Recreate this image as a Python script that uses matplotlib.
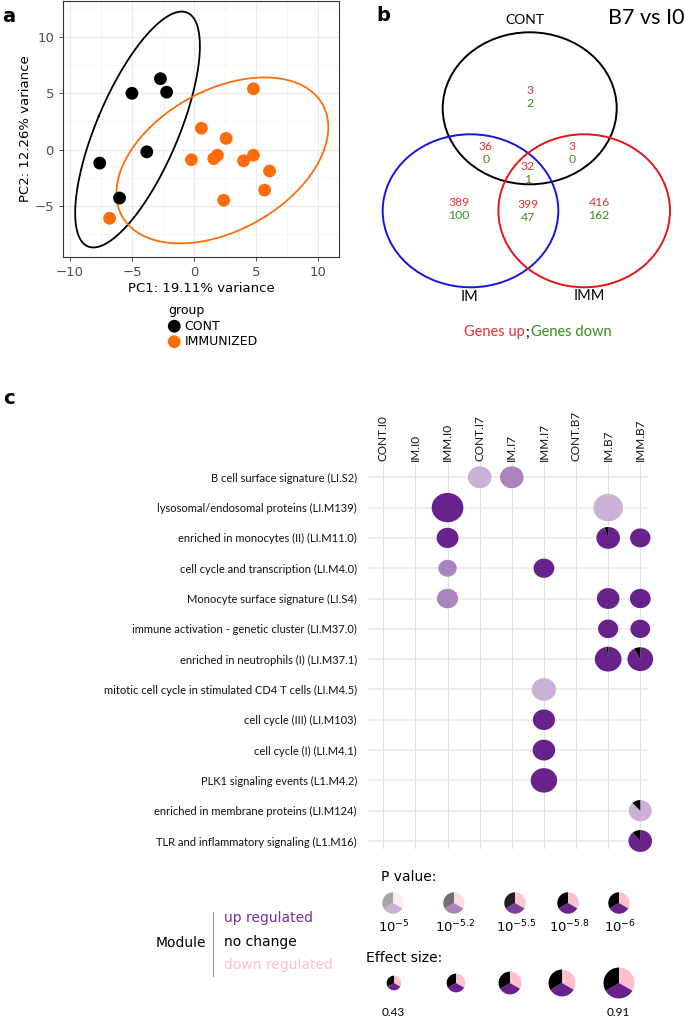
import numpy as np
import matplotlib
matplotlib.use('Agg')
import matplotlib.pyplot as plt
from matplotlib.patches import Ellipse, Polygon
from matplotlib.colors import to_rgb

# ---------------- panel a : PCA scores
cont_pc1 = [-2.7, -5.0, -2.2, -3.8, -7.6, -6.0]
cont_pc2 = [6.3, 5.0, 5.1, -0.2, -1.2, -4.3]
imm_pc1 = [4.8, 0.6, 2.6, -0.2, 1.6, 1.9, 4.0, 4.8, 6.1, 5.7, 2.4, -6.8]
imm_pc2 = [5.4, 1.9, 1.0, -0.9, -0.8, -0.5, -1.0, -0.5, -1.9, -3.6, -4.5, -6.1]

# ---------------- panel b : venn counts (genes up / genes down)
venn_regions = ['CONT', 'CONT&IM', 'CONT&IMM', 'CONT&IM&IMM', 'IM', 'IM&IMM', 'IMM']
venn_up = [3, 36, 3, 32, 389, 399, 416]
venn_down = [2, 0, 0, 1, 100, 47, 162]

# ---------------- panel c : module bubbles
comparisons = ['CONT.I0', 'IM.I0', 'IMM.I0', 'CONT.I7', 'IM.I7', 'IMM.I7',
               'CONT.B7', 'IM.B7', 'IMM.B7']
modules = ['B cell surface signature (LI.S2)',
           'lysosomal/endosomal proteins (LI.M139)',
           'enriched in monocytes (II) (LI.M11.0)',
           'cell cycle and transcription (LI.M4.0)',
           'Monocyte surface signature (LI.S4)',
           'immune activation - genetic cluster (LI.M37.0)',
           'enriched in neutrophils (I) (LI.M37.1)',
           'mitotic cell cycle in stimulated CD4 T cells (LI.M4.5)',
           'cell cycle (III) (LI.M103)',
           'cell cycle (I) (LI.M4.1)',
           'PLK1 signaling events (L1.M4.2)',
           'enriched in membrane proteins (LI.M124)',
           'TLR and inflammatory signaling (L1.M16)']
bub_module = [0, 0, 1, 1, 2, 2, 2, 3, 3, 4, 4, 4, 5, 5, 6, 6, 7, 8, 9, 10, 11, 12]
bub_comp = [3, 4, 2, 7, 2, 7, 8, 2, 5, 2, 7, 8, 7, 8, 7, 8, 5, 5, 5, 5, 8, 8]
bub_effect = [0.67, 0.67, 0.90, 0.84, 0.62, 0.67, 0.58, 0.52, 0.59, 0.60, 0.64,
              0.59, 0.57, 0.56, 0.76, 0.73, 0.69, 0.63, 0.64, 0.75, 0.65, 0.67]
bub_logp = [5.0, 5.2, 6, 5.0, 6, 6, 6, 5.2, 6, 5.2, 6, 6, 6, 6, 6, 6, 5.0, 6, 6, 6,
            5.0, 6]
bub_none = [0, 0, 0, 0, 0, 0.05, 0, 0, 0, 0, 0, 0, 0, 0, 0.02, 0.08, 0, 0, 0, 0,
            0.12, 0.11]
bub_down = [0] * len(bub_none)

legend_logp = [5, 5.2, 5.5, 5.8, 6]
legend_logp_labels = ['$10^{-5}$', '$10^{-5.2}$', '$10^{-5.5}$', '$10^{-5.8}$', '$10^{-6}$']
legend_effect = [0.43, 0.55, 0.67, 0.79, 0.91]

UP = '#68228B'
NONE = '#000000'
DOWN = '#FFC0CB'
ORANGE = '#FF6D0A'


def p_alpha(lp):
    return float(np.clip(0.35 + (lp - 5) * 1.04, 0, 1))


def fade(color, a):
    c = np.array(to_rgb(color))
    return tuple(1 - a * (1 - c))


def pie(ax, cx, cy, rx, ry, fracs, colors):
    # slices go clockwise from 12 o'clock, y axis is inverted
    start = 0.0
    for f, c in zip(fracs, colors):
        if f <= 0:
            continue
        th = np.linspace(start, start + f, max(int(f * 120), 3)) * 2 * np.pi
        xs = cx + rx * np.sin(th)
        ys = cy - ry * np.cos(th)
        pts = list(zip(xs, ys))
        if f < 0.999:
            pts = [(cx, cy)] + pts
        ax.add_patch(Polygon(pts, closed=True, fc=c, ec='none', lw=0, clip_on=False))
        start += f


W, H = 685, 1019
fig = plt.figure(figsize=(W / 100, H / 100), dpi=100)


def box(l, t, r, b):
    return [l / W, 1 - b / H, (r - l) / W, (b - t) / H]


# ================= panel a
ax = fig.add_axes(box(63, 1, 339, 257))
ax.set_facecolor('white')
for xs, ys, col, lab in [(cont_pc1, cont_pc2, 'black', 'CONT'),
                         (imm_pc1, imm_pc2, ORANGE, 'IMMUNIZED')]:
    ax.scatter(xs, ys, s=85, color=col, edgecolor='none', zorder=3, label=lab)
    pts = np.column_stack([xs, ys])
    mu = pts.mean(axis=0)
    vals, vecs = np.linalg.eigh(np.cov(pts.T))
    t = np.linspace(0, 2 * np.pi, 300)
    r = np.sqrt(-2 * np.log(0.05))
    ell = mu[:, None] + r * vecs @ (np.sqrt(vals)[:, None] * np.vstack([np.cos(t), np.sin(t)]))
    ax.plot(ell[0], ell[1], color=col, lw=1.3, zorder=2)

ax.set_xlim(-10.56, 11.7)
ax.set_ylim(-9.54, 13.2)
ax.set_xticks([-10, -5, 0, 5, 10])
ax.set_yticks([-5, 0, 5, 10])
ax.set_xticks([-7.5, -2.5, 2.5, 7.5], minor=True)
ax.set_yticks([-7.5, -2.5, 2.5, 7.5, 12.5], minor=True)
ax.grid(which='major', color='#EBEBEB', lw=0.8)
ax.grid(which='minor', color='#F3F3F3', lw=0.5)
ax.set_axisbelow(True)
ax.tick_params(which='major', labelsize=9.5, labelcolor='#4D4D4D', color='#333333',
               length=3, width=0.6)
ax.tick_params(which='minor', length=0)
for s in ax.spines.values():
    s.set_color('#333333')
    s.set_linewidth(0.8)
ax.set_xlabel('PC1: 19.11% variance', fontsize=9.5, labelpad=2)
ax.set_ylabel('PC2: 12.26% variance', fontsize=9.5, labelpad=2)
h, l = ax.get_legend_handles_labels()
fig.legend(h, l, title='group', loc='upper left',
           bbox_to_anchor=(168 / W, 1 - 304 / H), frameon=False, fontsize=9,
           title_fontsize=9, alignment='left', handletextpad=0.3,
           labelspacing=0.2, borderpad=0, handlelength=1.0, borderaxespad=0)

# ================= overlay (pixel space) for panel b, legends, labels
ov = fig.add_axes([0, 0, 1, 1], zorder=-1)
ov.set_xlim(0, W)
ov.set_ylim(H, 0)
ov.axis('off')

ov.text(2, 16, 'a', fontsize=14, fontweight='bold', va='center')
ov.text(376, 15, 'b', fontsize=14, fontweight='bold', va='center')
ov.text(3, 398, 'c', fontsize=14, fontweight='bold', va='center')

venn_font = 'Lato'
for (cx, cy, rx, ry), col in zip([(529.7, 108.3, 87, 76), (470.5, 210.8, 87.8, 76.5),
                                  (584.2, 210.8, 85.8, 76.5)],
                                 ['black', '#1515E0', '#E51515']):
    ov.add_patch(Ellipse((cx, cy), 2 * rx, 2 * ry, fill=False, ec=col, lw=1.4))

venn_pos = {'CONT': (530, 96), 'CONT&IM': (486, 152), 'CONT&IMM': (572, 152),
            'CONT&IM&IMM': (528, 172), 'IM': (459, 208), 'IM&IMM': (528, 210),
            'IMM': (599, 208)}
for reg, up, dn in zip(venn_regions, venn_up, venn_down):
    x, y = venn_pos[reg]
    ov.text(x, y - 6, str(up), color='#E53030', fontsize=8.8, ha='center',
            va='center', family=venn_font)
    ov.text(x, y + 7, str(dn), color='#3A8C1E', fontsize=8.8, ha='center',
            va='center', family=venn_font)

ov.text(525, 20, 'CONT', fontsize=10, ha='center', va='center', family=venn_font)
ov.text(470, 297, 'IM', fontsize=10.5, ha='center', va='center', family=venn_font)
ov.text(589, 296, 'IMM', fontsize=10.5, ha='center', va='center', family=venn_font)
ov.text(646, 18, 'B7 vs I0', fontsize=15.5, ha='center', va='center', family=venn_font)
ov.text(525, 332, 'Genes up', fontsize=10.5, ha='right', va='center', color='#E53030',
        family=venn_font)
ov.text(527.5, 333, ';', fontsize=10.5, ha='center', va='center', family=venn_font)
ov.text(531, 332, 'Genes down', fontsize=10.5, ha='left', va='center', color='#3A8C1E',
        family=venn_font)

# ================= panel c bubbles
L, T, R, B = 368, 463, 648, 849
bx = fig.add_axes(box(L, T, R, B))
x0, x1 = -0.476, 8.24
y0, y1 = 12.264, -0.472
bx.set_xlim(x0, x1)
bx.set_ylim(y0, y1)
for i in range(len(comparisons)):
    bx.axvline(i, color='#DCDCDC', lw=0.6, zorder=0)
for j in range(len(modules)):
    bx.axhline(j, color='#EBEBEB', lw=1.2, zorder=0)
for s in bx.spines.values():
    s.set_visible(False)
bx.xaxis.tick_top()
bx.set_xticks(range(len(comparisons)))
bx.set_xticklabels(comparisons, rotation=90, fontsize=8.5, family=venn_font,
                   color='#111111')
bx.set_yticks(range(len(modules)))
bx.set_yticklabels(modules, fontsize=8, family=venn_font, color='#111111')
bx.tick_params(length=0)
bx.tick_params(axis='x', pad=1.5)
bx.tick_params(axis='y', pad=8)
bx.patch.set_alpha(0)

px_x = (R - L) / (x1 - x0)
px_y = (B - T) / (y0 - y1)
for m, c, e, lp, nn, dn in zip(bub_module, bub_comp, bub_effect, bub_logp, bub_none, bub_down):
    a = p_alpha(lp)
    up = 1 - nn - dn
    rx = e * 17.6 / px_x
    ry = e * 16.3 / px_y
    pie(bx, c, m, rx, ry, [dn, up, nn], [fade(DOWN, a), fade(UP, a), NONE])

# ================= legends
ov.text(381, 877, 'P value:', fontsize=10, va='center')
for x, lp, lab in zip([393, 454, 515, 568, 619], legend_logp, legend_logp_labels):
    a = p_alpha(lp)
    pie(ov, x, 903, 10.7, 10.7, [1 / 3, 1 / 3, 1 / 3],
        [fade(DOWN, a), fade(UP, a), fade(NONE, a)])
    ov.text(x + 1, 927, lab, fontsize=9.5, ha='center', va='center')

ov.text(366, 958, 'Effect size:', fontsize=10, va='center')
for i, (x, e) in enumerate(zip([394, 456, 510, 562, 619], legend_effect)):
    r = e * 17.0
    pie(ov, x, 983, r, r, [1 / 3, 1 / 3, 1 / 3], [DOWN, UP, NONE])
    if i in (0, len(legend_effect) - 1):
        ov.text(x - 1, 1012, f'{e:.2f}', fontsize=8.5, ha='center', va='center',
                family=venn_font)

ov.text(206, 943, 'Module', fontsize=10, ha='right', va='center')
ov.plot([213.3, 213.3], [912, 976], color='#999999', lw=0.8)
ov.text(224, 918, 'up regulated', fontsize=10, va='center', color='#7030A0')
ov.text(224, 942, 'no change', fontsize=10, va='center', color='black')
ov.text(224, 965, 'down regulated', fontsize=10, va='center', color=DOWN)

fig.savefig('out.png', dpi=100)
